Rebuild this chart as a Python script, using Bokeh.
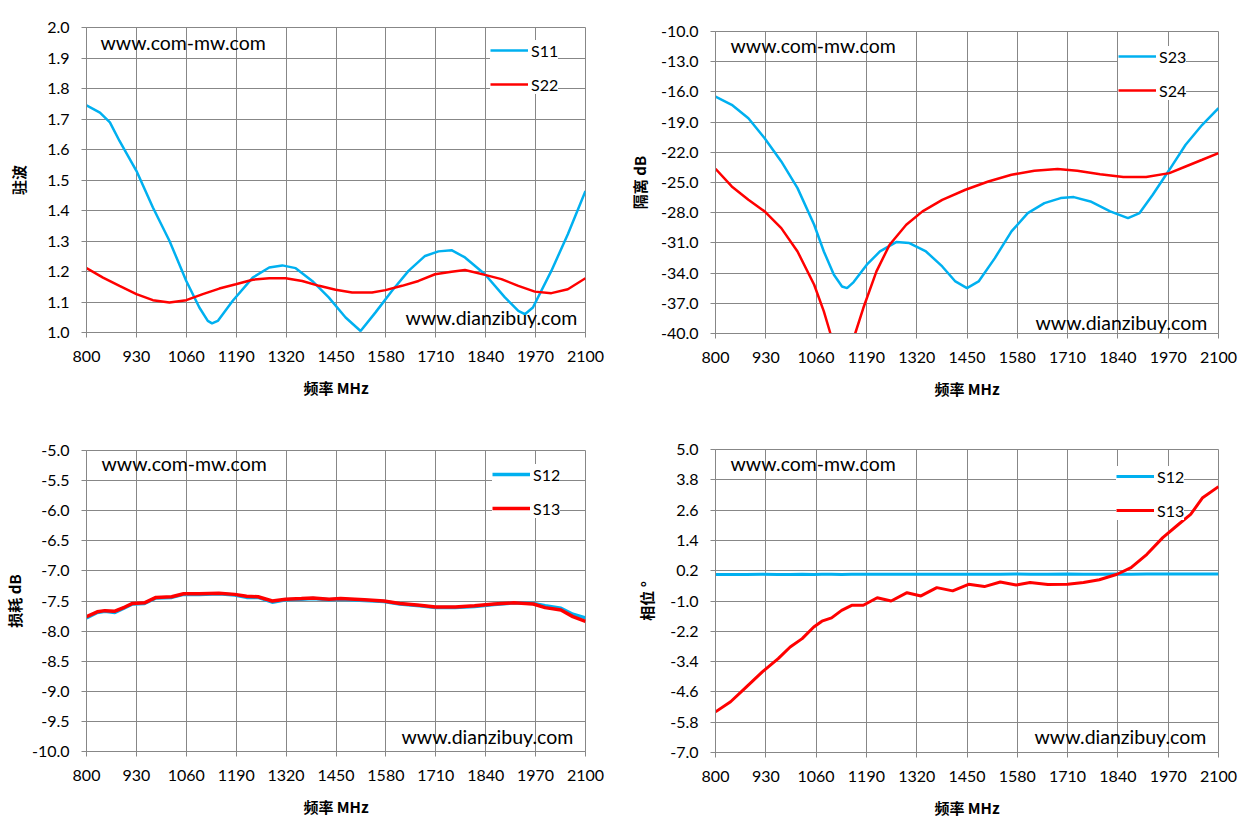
from bokeh.plotting import figure
from bokeh.layouts import column, row
from bokeh.models import Range1d, FixedTicker, PrintfTickFormatter, Legend, LegendItem, Label
from bokeh.embed import file_html
from bokeh.resources import INLINE

# ---------------- data ----------------
x_ticks = [800, 930, 1060, 1190, 1320, 1450, 1580, 1710, 1840, 1970, 2100]
vswr_ticks = [1.0, 1.1, 1.2, 1.3, 1.4, 1.5, 1.6, 1.7, 1.8, 1.9, 2.0]
iso_ticks = [-40.0, -37.0, -34.0, -31.0, -28.0, -25.0, -22.0, -19.0, -16.0, -13.0, -10.0]
loss_ticks = [-10.0, -9.5, -9.0, -8.5, -8.0, -7.5, -7.0, -6.5, -6.0, -5.5, -5.0]
phase_ticks = [-7.0, -5.8, -4.6, -3.4, -2.2, -1.0, 0.2, 1.4, 2.6, 3.8, 5.0]

s11_f = [800, 835, 861, 886, 930, 973, 1016, 1060, 1094, 1116, 1127, 1142, 1181, 1233, 1276,
         1310, 1345, 1388, 1431, 1475, 1514, 1553, 1596, 1639, 1682, 1717, 1751, 1786, 1838,
         1890, 1925, 1942, 1963, 2011, 2054, 2100]
s11_v = [1.745, 1.721, 1.689, 1.628, 1.530, 1.410, 1.301, 1.169, 1.082, 1.038, 1.030, 1.038,
         1.104, 1.180, 1.213, 1.220, 1.211, 1.169, 1.115, 1.049, 1.005, 1.066, 1.137, 1.202,
         1.251, 1.266, 1.270, 1.246, 1.191, 1.115, 1.071, 1.060, 1.082, 1.202, 1.322, 1.464]

s22_f = [800, 843, 886, 930, 973, 1016, 1060, 1103, 1146, 1189, 1233, 1276, 1319, 1362, 1406,
         1449, 1492, 1544, 1579, 1622, 1665, 1708, 1751, 1786, 1838, 1881, 1925, 1968, 2011,
         2054, 2100]
s22_v = [1.211, 1.180, 1.153, 1.126, 1.106, 1.098, 1.106, 1.126, 1.144, 1.158, 1.173, 1.178,
         1.178, 1.169, 1.153, 1.140, 1.131, 1.131, 1.139, 1.153, 1.169, 1.191, 1.199, 1.205,
         1.189, 1.175, 1.153, 1.134, 1.129, 1.142, 1.178]

s23_f = [800, 842, 885, 927, 970, 1012, 1055, 1080, 1106, 1127, 1140, 1157, 1191, 1225, 1267,
         1301, 1344, 1386, 1420, 1450, 1480, 1522, 1565, 1607, 1650, 1692, 1726, 1769, 1820,
         1866, 1896, 1930, 1973, 2015, 2058, 2100]
s23_v = [-16.46, -17.28, -18.61, -20.60, -22.91, -25.56, -29.20, -31.85, -34.17, -35.33, -35.49,
         -34.89, -33.17, -31.85, -30.92, -31.02, -31.85, -33.34, -34.83, -35.49, -34.83, -32.51,
         -29.86, -28.04, -27.05, -26.55, -26.45, -26.88, -27.87, -28.54, -28.04, -26.22, -23.74,
         -21.25, -19.27, -17.61]

s24_f = [800, 842, 885, 927, 970, 1012, 1055, 1080, 1097, 1113, 1129, 1145, 1161, 1182, 1216,
         1250, 1293, 1335, 1386, 1446, 1505, 1565, 1624, 1684, 1735, 1794, 1854, 1913, 1973,
         2015, 2058, 2100]
s24_v = [-23.64, -25.39, -26.72, -27.87, -29.53, -31.85, -35.16, -37.80, -40.00, -42.3, -44.0,
         -42.2, -40.00, -37.47, -33.83, -31.18, -29.20, -27.87, -26.72, -25.72, -24.90, -24.23,
         -23.84, -23.67, -23.84, -24.17, -24.46, -24.46, -24.07, -23.41, -22.74, -22.08]

loss_f = [800, 828, 848, 874, 900, 920, 951, 981, 1022, 1053, 1094, 1145, 1186, 1217, 1247,
          1284, 1319, 1360, 1390, 1432, 1462, 1524, 1575, 1616, 1668, 1709, 1760, 1811, 1862,
          1913, 1964, 1995, 2036, 2067, 2100]
s12_loss = [-7.78, -7.69, -7.67, -7.69, -7.61, -7.55, -7.54, -7.45, -7.44, -7.39, -7.39, -7.38,
            -7.40, -7.44, -7.44, -7.52, -7.48, -7.47, -7.46, -7.48, -7.47, -7.49, -7.51, -7.55,
            -7.58, -7.61, -7.61, -7.59, -7.56, -7.53, -7.54, -7.58, -7.62, -7.72, -7.78]
s13_loss = [-7.76, -7.68, -7.66, -7.67, -7.60, -7.54, -7.53, -7.44, -7.43, -7.38, -7.38, -7.37,
            -7.39, -7.42, -7.43, -7.50, -7.47, -7.46, -7.45, -7.47, -7.46, -7.48, -7.50, -7.54,
            -7.57, -7.60, -7.60, -7.58, -7.55, -7.53, -7.55, -7.61, -7.65, -7.76, -7.84]

phase_f = [800, 839, 880, 921, 962, 993, 1024, 1054, 1075, 1100, 1126, 1152, 1182, 1218, 1254,
           1295, 1331, 1372, 1413, 1454, 1495, 1536, 1577, 1613, 1659, 1710, 1751, 1792, 1838,
           1874, 1915, 1956, 1997, 2028, 2059, 2100]
s12_phase = [0.05, 0.05, 0.05, 0.06, 0.05, 0.05, 0.06, 0.05, 0.06, 0.06, 0.05, 0.06, 0.06, 0.06,
             0.06, 0.06, 0.06, 0.06, 0.06, 0.06, 0.06, 0.06, 0.07, 0.06, 0.06, 0.07, 0.06, 0.06,
             0.07, 0.06, 0.07, 0.07, 0.07, 0.07, 0.07, 0.07]
s13_phase = [-5.39, -4.99, -4.40, -3.81, -3.28, -2.82, -2.49, -2.03, -1.80, -1.67, -1.37, -1.17,
             -1.17, -0.87, -1.00, -0.67, -0.80, -0.47, -0.60, -0.34, -0.43, -0.25, -0.37, -0.27,
             -0.35, -0.34, -0.27, -0.16, 0.06, 0.32, 0.85, 1.51, 2.04, 2.43, 3.09, 3.53]

# ---------------- style ----------------
GRAY = "#878787"
BLUE = "#00B0F0"
RED = "#FF0000"
TICK_FONT = "Lato"
CJK = "Noto Sans CJK SC"


def make_fig(w, h, bl, br, bt, bb, yr, yticks, ylabel, ytitle_standoff, series, leg_loc, wm1, wm2):
    p = figure(width=w, height=h, min_border_left=bl, min_border_right=br,
               min_border_top=bt, min_border_bottom=bb, output_backend="svg",
               toolbar_location=None, x_range=Range1d(800, 2100), y_range=Range1d(*yr),
               background_fill_color="white", border_fill_color="white")
    p.outline_line_color = GRAY
    p.outline_line_width = 1
    for ax in (p.xaxis[0], p.yaxis[0]):
        ax.axis_line_color = GRAY
        ax.major_tick_line_color = GRAY
        ax.major_tick_out = 5
        ax.major_tick_in = 0
        ax.minor_tick_line_color = None
        ax.major_label_text_font = TICK_FONT
        ax.major_label_text_font_size = "16px"
        ax.major_label_text_color = "black"
        ax.axis_label_text_font = CJK
        ax.axis_label_text_font_style = "bold"
        ax.axis_label_text_font_size = "15px"
        ax.axis_label_text_color = "black"
    p.xaxis.ticker = FixedTicker(ticks=x_ticks)
    p.yaxis.ticker = FixedTicker(ticks=yticks)
    p.xaxis.formatter = PrintfTickFormatter(format="%d")
    p.yaxis.formatter = PrintfTickFormatter(format="%.1f")
    p.xaxis.major_label_standoff = 13
    p.yaxis.major_label_standoff = 12
    p.xaxis.axis_label = "频率 MHz"
    p.xaxis.axis_label_standoff = 12
    p.yaxis.axis_label = ylabel
    p.yaxis.axis_label_standoff = ytitle_standoff
    p.xgrid.ticker = FixedTicker(ticks=x_ticks)
    p.ygrid.ticker = FixedTicker(ticks=yticks)
    p.xgrid.grid_line_color = GRAY
    p.ygrid.grid_line_color = GRAY
    p.xgrid.grid_line_width = 1
    p.ygrid.grid_line_width = 1

    items = []
    for name, xs, ys, color, lw in series:
        r = p.line(xs, ys, line_color=color, line_width=lw)
        items.append(LegendItem(label=name, renderers=[r]))

    for (tx, ty, txt) in (wm1, wm2):
        p.add_layout(Label(x=tx, y=ty, x_units="screen", y_units="screen", text=txt,
                           text_font="Lato", text_font_size="19.5px", text_baseline="middle",
                           text_color="black"))

    leg = Legend(items=items, location=leg_loc, padding=6, spacing=14, glyph_width=38,
                 glyph_height=20, label_height=20, label_standoff=3, margin=0,
                 border_line_color=None, background_fill_color="white",
                 background_fill_alpha=1.0, label_text_font=TICK_FONT,
                 label_text_font_size="16px", label_text_color="black")
    p.add_layout(leg)
    return p


p1 = make_fig(625, 419, 84, 40, 27, 87, (1.0, 2.0), vswr_ticks, "驻波", 15,
              [("S11", s11_f, s11_v, BLUE, 2.5), ("S22", s22_f, s22_v, RED, 2.5)],
              (404, 238), (14, 290, "www.com-mw.com"), (319, 15, "www.dianzibuy.com"))
p2 = make_fig(617, 419, 86, 21, 31, 86, (-40.0, -10.0), iso_ticks, "隔离 dB", 8,
              [("S23", s23_f, s23_v, BLUE, 2.5), ("S24", s24_f, s24_v, RED, 2.5)],
              (403, 233), (15, 288, "www.com-mw.com"), (320, 11, "www.dianzibuy.com"))
p3 = make_fig(625, 411, 84, 40, 31, 79, (-10.0, -5.0), loss_ticks, "损耗 dB", 4,
              [("S12", loss_f, s12_loss, BLUE, 3.5), ("S13", loss_f, s13_loss, RED, 3.5)],
              (406, 233), (15, 288, "www.com-mw.com"), (315, 15, "www.dianzibuy.com"))
p4 = make_fig(617, 411, 86, 24, 30, 78, (-7.0, 5.0), phase_ticks, "相位 °", 10,
              [("S12", phase_f, s12_phase, BLUE, 3.0), ("S13", phase_f, s13_phase, RED, 3.0)],
              (401, 232), (15, 289, "www.com-mw.com"), (319, 16, "www.dianzibuy.com"))

layout = row(column(p1, p3), column(p2, p4))
open("out.html", "w").write(file_html(layout, INLINE))
